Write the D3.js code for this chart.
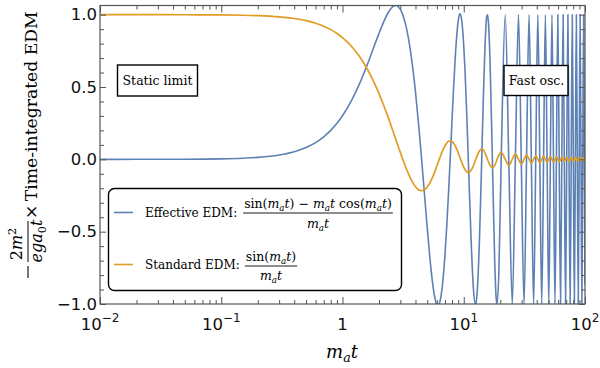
<!DOCTYPE html>
<html><head><meta charset="utf-8">
<script src="https://cdn.jsdelivr.net/npm/d3@7"></script>
<style>body{margin:0;background:#fff} svg{display:block} .srf{font-family:"DejaVu Serif",serif}</style>
</head><body>
<svg id="chart" width="600" height="368"></svg>
<script>
// m_a t sample positions
const mt = [0.01,0.02,0.05,0.1,0.15,0.2,0.3,0.4,0.5,0.6,0.7,0.8,0.9,1.0,1.2,1.4,1.6,1.8,2.0,2.2,2.4,2.6,2.75,2.9,3.1,3.3,3.5,3.75,4.0,4.25,4.493,4.75,5.0,5.25,5.5,5.75,6.0,6.117,6.3,6.5,6.75,7.0,7.25,7.5,7.725,8.0,8.25,8.5,8.75,9.0,9.25,9.32,9.5,9.75,10.0,10.25,10.5,10.75,10.904,11.0,11.5,12.0,12.5,12.566,13.0,13.5,14.066,14.5,15.0,15.5,15.708,16.0,16.5,17.221,18.0,18.5,18.85,19.5,
20.420,21.991,23.562,25.133,26.704,28.274,29.845,31.416,32.987,34.558,36.128,37.699,39.270,40.841,42.412,43.982,45.553,47.124,48.695,50.265,51.836,53.407,54.978,56.549,58.119,59.690,61.261,62.832,64.403,65.973,67.544,69.115,70.686,72.257,73.827,75.398,76.969,78.540,80.111,81.681,83.252,84.823,86.394,87.965,89.535,91.106,92.677,94.248,95.819,97.389,98.960,100];

// Effective EDM curve values
const effective = [0.00003,0.00013,0.00083,0.00333,0.0075,0.01328,0.02973,0.05249,0.08127,0.11573,0.15547,0.19999,0.24875,0.30117,0.41434,0.53393,0.65393,0.76823,0.87080,0.95600,1.01884,1.05516,1.06309,1.05346,1.01255,0.93968,0.83623,0.66814,0.46444,0.23550,0.0,-0.24798,-0.47545,-0.67569,-0.83695,-0.94959,-1.00674,-1.01327,-0.99719,-0.94349,-0.82632,-0.66005,-0.45440,-0.22157,0.0,0.26917,0.49836,0.69595,0.85227,0.95692,1.00357,1.00574,0.98926,0.91481,0.78467,0.60663,0.39176,0.15287,0.0,-0.09533,-0.55906,-0.88857,-1.00310,-1.0,-0.87513,-0.53538,0.0,0.41940,0.80304,0.99178,1.0,0.93967,0.65926,0.0,-0.70204,-0.95804,-1.0,-0.76476,
0.0490,1,-0.0424,-1,0.0374,1,-0.0335,-1,0.0303,1,-0.0277,-1,0.0255,1,-0.0236,-1,0.0220,1,-0.0205,-1,0.0193,1,-0.0182,-1,0.0172,1,-0.0163,-1,0.0155,1,-0.0148,-1,0.0141,1,-0.0135,-1,0.0130,1,-0.0125,-1,0.0120,1,-0.0116,-1,0.0112,1,-0.0108,-1,0.0104,1,-0.0101,-0.8674];

// Standard EDM curve values
const standard = [0.99998,0.99993,0.99958,0.99833,0.99625,0.99335,0.98507,0.97355,0.95885,0.94107,0.92031,0.89670,0.87036,0.84147,0.77670,0.70389,0.62473,0.54103,0.45465,0.36750,0.28144,0.19827,0.13879,0.08250,0.01341,-0.04780,-0.10022,-0.15242,-0.18920,-0.21059,-0.21723,-0.21038,-0.19179,-0.16361,-0.12828,-0.08840,-0.04657,-0.02704,0.00267,0.03310,0.06667,0.09386,0.11353,0.12507,0.12839,0.12367,0.11179,0.09394,0.07139,0.04579,0.01880,0.01122,-0.00791,-0.03277,-0.05440,-0.07169,-0.08378,-0.09024,-0.09133,-0.09091,-0.07615,-0.04471,-0.00531,0.0,0.03232,0.05954,0.07092,0.06448,0.04335,0.01332,0.0,-0.01799,-0.04314,-0.05797,-0.04172,-0.01851,0.0,0.03105,
0.0490,0,-0.0424,0,0.0374,0,-0.0335,0,0.0303,0,-0.0277,0,0.0255,0,-0.0236,0,0.0220,0,-0.0205,0,0.0193,0,-0.0182,0,0.0172,0,-0.0163,0,0.0155,0,-0.0148,0,0.0141,0,-0.0135,0,0.0130,0,-0.0125,0,0.0120,0,-0.0116,0,0.0112,0,-0.0108,0,0.0104,0,-0.0101,-0.0051];

const yTickValues = [-1, -0.5, 0, 0.5, 1];
const yTickLabels = ["\u22121.0", "\u22120.5", "0.0", "0.5", "1.0"];
const xTickValues = [0.01, 0.1, 1, 10, 100];
const xTickBases = ["10", "10", "1", "10", "10"];
const xTickExps = ["\u22122", "\u22121", "", "1", "2"];
const seriesNames = ["Effective EDM: ", "Standard EDM: "];
const seriesColors = ["#5E81B5", "#E19C24"];
const annotations = ["Static limit", "Fast osc."];

const svg = d3.select("#chart");
const L = 100, R = 585, T = 5.5, B = 304;
const x = d3.scaleLog().domain([0.01, 100]).range([L, R]);
const y = d3.scaleLinear().domain([-1, 1.0635]).range([B, T]);
const sans = "DejaVu Sans, sans-serif";
const frameCol = "#555";

svg.append("defs").append("clipPath").attr("id", "clip")
  .append("rect").attr("x", L).attr("y", T).attr("width", R - L).attr("height", B - T);

// lines
const pts = mt.map((v, i) => ({x: v, e: effective[i], s: standard[i]}));
const lineE = d3.line().x(d => x(d.x)).y(d => y(d.e)).curve(d3.curveMonotoneX);
const lineS = d3.line().x(d => x(d.x)).y(d => y(d.s)).curve(d3.curveMonotoneX);
const plot = svg.append("g").attr("clip-path", "url(#clip)");
plot.append("path").datum(pts).attr("d", lineE).attr("fill", "none")
  .attr("stroke", seriesColors[0]).attr("stroke-width", 1.6);
plot.append("path").datum(pts).attr("d", lineS).attr("fill", "none")
  .attr("stroke", seriesColors[1]).attr("stroke-width", 1.7);

// ticks
const yMinor = d3.range(-10, 11).map(d => d / 10).filter(v => Math.abs(v * 2 - Math.round(v * 2)) > 1e-6);
const xMinor = [];
[0.01, 0.1, 1, 10].forEach(dec => { for (let k = 2; k <= 9; k++) xMinor.push(dec * k); });

function styleAxis(g) {
  g.select(".domain").remove();
  g.selectAll(".tick line").attr("stroke", frameCol).attr("stroke-width", 1);
}
svg.append("g").attr("transform", `translate(0,${B})`)
  .call(d3.axisBottom(x).tickValues(xTickValues).tickSize(-7).tickFormat("")).call(styleAxis);
svg.append("g").attr("transform", `translate(0,${B})`)
  .call(d3.axisBottom(x).tickValues(xMinor).tickSize(-4).tickFormat("")).call(styleAxis);
svg.append("g").attr("transform", `translate(0,${T})`)
  .call(d3.axisTop(x).tickValues(xTickValues).tickSize(-7).tickFormat("")).call(styleAxis);
svg.append("g").attr("transform", `translate(0,${T})`)
  .call(d3.axisTop(x).tickValues(xMinor).tickSize(-4).tickFormat("")).call(styleAxis);

const yAxisL = svg.append("g").attr("transform", `translate(${L},0)`)
  .call(d3.axisLeft(y).tickValues(yTickValues).tickSize(-6).tickPadding(3)
    .tickFormat((d, i) => yTickLabels[i])).call(styleAxis);
yAxisL.selectAll("text").attr("font-family", sans).attr("font-size", 16.5).attr("fill", "#111");
svg.append("g").attr("transform", `translate(${L},0)`)
  .call(d3.axisLeft(y).tickValues(yMinor).tickSize(-4).tickFormat("")).call(styleAxis);
svg.append("g").attr("transform", `translate(${R},0)`)
  .call(d3.axisRight(y).tickValues(yTickValues).tickSize(-6).tickFormat("")).call(styleAxis);
svg.append("g").attr("transform", `translate(${R},0)`)
  .call(d3.axisRight(y).tickValues(yMinor).tickSize(-4).tickFormat("")).call(styleAxis);

// frame
svg.append("rect").attr("x", L).attr("y", T).attr("width", R - L).attr("height", B - T)
  .attr("fill", "none").attr("stroke", frameCol).attr("stroke-width", 1.2);

// x tick labels
xTickValues.forEach((v, i) => {
  const t = svg.append("text").attr("x", x(v)).attr("y", 330)
    .attr("text-anchor", "middle").attr("font-family", sans).attr("font-size", 16.5).attr("fill", "#111");
  t.append("tspan").text(xTickBases[i]);
  if (xTickExps[i]) t.append("tspan").attr("dy", -8).attr("font-size", 12).text(xTickExps[i]);
});

// rich text helper
function rich(parent, xPos, yPos, segs, size, anchor) {
  const t = parent.append("text").attr("class", "srf").attr("x", xPos).attr("y", yPos).attr("font-size", size)
    .attr("text-anchor", anchor).attr("fill", "#000")
    .style("white-space", "pre");
  let shift = 0;
  segs.forEach(s => {
    const target = s.sub ? size * 0.22 : (s.sup ? -size * 0.4 : 0);
    const ts = t.append("tspan").text(s.t).attr("dy", target - shift);
    shift = target;
    if (s.i) ts.attr("font-style", "italic");
    if (s.sub || s.sup) ts.attr("font-size", size * 0.7);
  });
  return t;
}
const mat = [{t: "m", i: 1}, {t: "a", i: 1, sub: 1}, {t: "t", i: 1}];

// x axis title
rich(svg, 342, 358, mat, 18, "middle");

// y axis title (rotated)
const yl = svg.append("g").attr("transform", "rotate(-90)");
rich(yl, -244, 22, [{t: "2"}, {t: "m", i: 1}, {t: "2", sup: 1}], 16, "middle");
rich(yl, -241, 42, [{t: "e", i: 1}, {t: "g", i: 1}, {t: "a", i: 1}, {t: "0", sub: 1}, {t: "t", i: 1}], 16, "middle");
yl.append("line").attr("x1", -262).attr("x2", -221).attr("y1", 28).attr("y2", 28)
  .attr("stroke", "#000").attr("stroke-width", 1);
yl.append("line").attr("x1", -278).attr("x2", -266).attr("y1", 28).attr("y2", 28)
  .attr("stroke", "#000").attr("stroke-width", 1.1);
yl.append("text").attr("class", "srf").attr("x", -219).attr("y", 37).attr("font-size", 17.2)
  .style("white-space", "pre").text("\u00d7\u2009Time-integrated EDM");

// legend
const lg = svg.append("g");
lg.append("rect").attr("x", 108.5).attr("y", 188.5).attr("width", 293).attr("height", 102)
  .attr("rx", 6).attr("fill", "#fff").attr("stroke", "#000").attr("stroke-width", 1.4);
const rows = [
  {ly: 212.5, tb: 217, cx: 318, nb: 208, bar: 213, db: 228,
   num: [{t: "sin("}, ...mat, {t: ") \u2212 "}, ...mat, {t: " cos("}, ...mat, {t: ")"}]},
  {ly: 264.5, tb: 269, cx: 271, nb: 261, bar: 266, db: 280,
   num: [{t: "sin("}, ...mat, {t: ")"}]}
];
rows.forEach((r, i) => {
  lg.append("line").attr("x1", 114).attr("x2", 133).attr("y1", r.ly).attr("y2", r.ly)
    .attr("stroke", seriesColors[i]).attr("stroke-width", 1.6);
  lg.append("text").attr("class", "srf").attr("x", 145).attr("y", r.tb).attr("font-size", 12)
    .style("white-space", "pre").text(seriesNames[i]);
  const n = rich(lg, r.cx, r.nb, r.num, 12.5, "middle");
  rich(lg, r.cx, r.db, mat, 12.5, "middle");
  const w = n.node().getComputedTextLength();
  lg.append("line").attr("x1", r.cx - w / 2 - 1).attr("x2", r.cx + w / 2 + 1)
    .attr("y1", r.bar).attr("y2", r.bar).attr("stroke", "#000").attr("stroke-width", 0.9);
});

// annotation boxes
const boxes = [{x0: 117.5, y0: 65, w: 80, h: 31, cx: 157.5, by: 85},
               {x0: 504, y0: 65.5, w: 64, h: 30, cx: 536.5, by: 85}];
boxes.forEach((b, i) => {
  svg.append("rect").attr("x", b.x0).attr("y", b.y0).attr("width", b.w).attr("height", b.h)
    .attr("fill", "#fff").attr("stroke", "#000").attr("stroke-width", 1.4);
  svg.append("text").attr("class", "srf").attr("x", b.cx).attr("y", b.by).attr("text-anchor", "middle")
    .attr("font-size", 12.5).text(annotations[i]);
});
</script>
</body></html>
